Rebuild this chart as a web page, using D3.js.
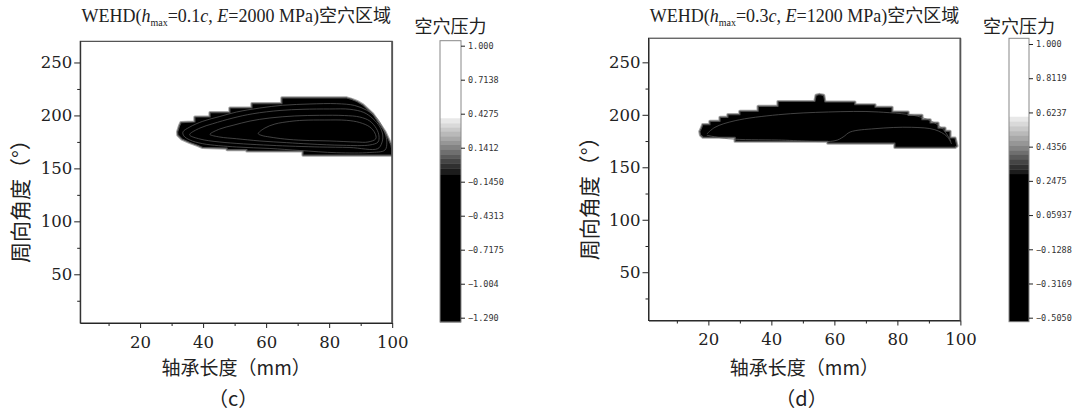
<!DOCTYPE html>
<html>
<head>
<meta charset="utf-8">
<script src="https://cdn.jsdelivr.net/npm/d3@7"></script>
<style>
  body { margin: 0; background: #fff; }
  .tick text { font-family: "DejaVu Serif", serif; font-size: 16.5px; fill: #222; }
  .tick line { stroke: #222; }
  .cjk { font-family: "Noto Sans CJK SC", sans-serif; fill: #222; }
</style>
</head>
<body>
<svg width="1075" height="412"></svg>
<script>
// axis ticks
var xTicks = [20, 40, 60, 80, 100];
var xMinor = [10, 30, 50, 70, 90];
var yTicks = [50, 100, 150, 200, 250];
var yMinor = [25, 75, 125, 175, 225];

// colour bar ticks (c) and (d)
var cbTicksC = [1.000, 0.7138, 0.4275, 0.1412, -0.1450, -0.4313, -0.7175, -1.004, -1.290];
var cbLabelsC = ["1.000", "0.7138", "0.4275", "0.1412", "−0.1450", "−0.4313", "−0.7175", "−1.004", "−1.290"];
var cbTicksD = [1.000, 0.8119, 0.6237, 0.4356, 0.2475, 0.05937, -0.1288, -0.3169, -0.5050];
var cbLabelsD = ["1.000", "0.8119", "0.6237", "0.4356", "0.2475", "0.05937", "−0.1288", "−0.3169", "−0.5050"];

// grey levels of the colour bars (white above first level, black below last)
var levelsC = [0.389, 0.347, 0.310, 0.276, 0.234, 0.198, 0.164, 0.122, 0.086, 0.052, 0.010, -0.032, -0.088];
var levelsD = [0.600, 0.574, 0.548, 0.521, 0.495, 0.469, 0.443, 0.416, 0.390, 0.364, 0.338, 0.311, 0.285];
var greys = ["#e8e8e8", "#d9d9d9", "#c9c9c9", "#b9b9b9", "#a8a8a8", "#969696", "#838383",
             "#6f6f6f", "#5a5a5a", "#454545", "#303030", "#1c1c1c"];

// cavitation region (c): outline, [length mm, angle deg]
var outlineC = [[31.9,184.4],[32.5,190.0],[33.0,193.3],[37.4,193.8],[37.4,198.5],[42.2,198.5],[42.2,202.6],
  [48.5,202.6],[48.5,207.0],[55.5,207.0],[55.5,211.1],[65.0,211.1],[65.0,216.5],[85.6,216.5],[87.2,215.1],
  [88.8,213.2],[90.7,209.9],[91.9,206.6],[93.8,201.4],[95.1,195.7],[96.4,190.0],[97.7,184.4],[98.6,178.7],
  [99.6,172.1],[99.9,167.3],[99.9,162.6],[71.7,162.6],[71.7,166.4],[53.9,166.4],[53.9,167.8],[47.6,167.8],
  [47.6,169.2],[39.9,169.7],[38.4,171.6],[35.8,174.4],[33.3,177.7],[32.0,181.5]];

// iso-lines inside region (c)
var isoC1 = [[33.6,184.4],[35.8,189.1],[39.9,194.5],[45.3,199.0],[50.6,203.2],[58.0,207.0],[65.3,209.6],
  [73.9,210.8],[82.4,211.1],[88.1,209.4],[91.9,204.9],[94.8,198.5],[96.4,191.9],[97.7,183.4],[98.3,174.9],
  [97.7,167.3],[92.9,165.0],[82.4,164.8],[70.7,166.9],[61.2,168.8],[50.6,170.2],[39.9,173.3],[35.8,176.8],[33.9,180.6]];
var isoC2 = [[35.8,182.5],[39.0,188.1],[43.1,192.2],[49.5,197.6],[55.8,201.6],[64.4,204.7],[71.7,205.8],
  [80.2,206.1],[86.6,205.8],[91.0,202.8],[93.9,196.9],[96.1,189.1],[97.0,181.5],[96.7,174.0],[95.4,168.6],
  [86.6,169.7],[77.0,170.2],[61.2,171.8],[45.3,174.9],[39.0,177.7],[35.8,181.2]];
var isoC3 = [[42.2,182.5],[45.3,187.2],[49.5,190.7],[54.9,194.7],[61.2,197.6],[69.1,199.5],[77.0,200.1],
  [84.9,199.9],[89.7,198.5],[92.9,194.7],[95.0,187.5],[95.8,180.6],[95.5,174.9],[92.9,172.1],[84.4,171.8],
  [73.9,173.0],[66.5,174.3],[58.0,175.9],[50.6,178.0],[45.3,179.6],[42.2,181.9]];
var isoC4 = [[57.5,182.8],[59.6,188.1],[62.8,191.9],[67.5,194.3],[71.7,195.4],[78.6,195.7],[85.5,195.4],
  [89.7,193.3],[92.9,189.1],[94.5,183.4],[94.8,178.0],[92.3,174.9],[88.7,174.9],[80.2,175.9],[71.7,176.5],
  [65.9,177.7],[61.2,179.6],[58.7,181.0]];

// cavitation region (d)
var outlineD = [[17.3,184.1],[17.9,188.0],[18.2,190.6],[20.5,190.6],[20.5,193.8],[23.7,193.8],[23.7,197.6],
  [26.2,197.6],[26.2,200.1],[30.0,200.1],[30.0,203.4],[35.8,203.4],[35.8,208.1],[42.1,208.1],[42.1,212.7],
  [53.8,212.7],[54.2,218.5],[55.2,219.4],[56.6,218.5],[57.0,212.2],[66.5,212.2],[66.5,209.6],[72.9,209.6],
  [72.9,207.2],[78.3,207.2],[78.3,202.7],[83.4,202.7],[83.4,199.5],[87.8,199.5],[87.8,195.3],[90.4,195.3],
  [90.4,192.2],[92.9,192.2],[92.9,187.4],[95.1,187.4],[95.1,184.3],[96.7,184.3],[96.7,177.9],[98.3,177.9],
  [98.9,170.3],[98.3,169.0],[79.2,169.0],[79.2,173.1],[57.9,173.1],[57.9,174.8],[28.5,174.8],[28.5,178.6],
  [18.3,178.6],[17.5,180.8]];
var isoD1 = [[19.5,181.7],[22.1,188.1],[28.5,194.4],[42.2,200.1],[58.1,202.7],[73.9,202.7],[87.7,197.6],
  [94.1,187.4],[97.0,174.8]];
var isoD2 = [[19.5,180.5],[26.3,177.2],[42.2,176.0],[60.2,175.3],[62.8,178.9],[65.0,183.6],[72.9,186.8],
  [84.5,188.1],[91.9,185.8],[95.7,179.5],[97.2,172.2]];

var svg = d3.select("svg");

var panels = [
  { id: "c", letter: "（c）", hval: "0.1", eval: "2000",
    left: 80.2, right: 392.2, top: 41.3, bottom: 323, xDomain: [1, 100], yDomain: [4, 270],
    outline: outlineC, isos: [isoC1, isoC2, isoC3, isoC4], closed: true,
    cbX: 440, cbW: 21, cbTop: 40.7, cbBottom: 322, cbDomain: [1.0, -1.29], cbRange: [45.7, 317.7],
    cbTicks: cbTicksC, cbLabels: cbLabelsC, levels: levelsC },
  { id: "d", letter: "（d）", hval: "0.3", eval: "1200",
    left: 648.5, right: 960.4, top: 38.2, bottom: 320.5, xDomain: [1, 100], yDomain: [4, 273],
    outline: outlineD, isos: [isoD1, isoD2], closed: false,
    cbX: 1009, cbW: 20, cbTop: 38.3, cbBottom: 321.7, cbDomain: [1.0, -0.505], cbRange: [44, 317.7],
    cbTicks: cbTicksD, cbLabels: cbLabelsD, levels: levelsD }
];

panels.forEach(function (p) {
  var x = d3.scaleLinear().domain(p.xDomain).range([p.left, p.right]);
  var y = d3.scaleLinear().domain(p.yDomain).range([p.bottom, p.top]);
  var cx = (p.left + p.right) / 2;

  svg.append("clipPath").attr("id", "clip" + p.id)
    .append("rect")
    .attr("x", p.left).attr("y", p.top)
    .attr("width", p.right - p.left).attr("height", p.bottom - p.top);

  var area = svg.append("g").attr("clip-path", "url(#clip" + p.id + ")");
  var line = d3.line().x(function (d) { return x(d[0]); }).y(function (d) { return y(d[1]); });

  // grey fringe, then black region
  area.append("path").datum(p.outline)
    .attr("d", function (d) { return line(d) + "Z"; })
    .attr("fill", "none").attr("stroke", "#a5a5a5").attr("stroke-width", 3.2)
    .attr("stroke-linejoin", "round");
  area.append("path").datum(p.outline)
    .attr("d", function (d) { return line(d) + "Z"; })
    .attr("fill", "#000").attr("stroke", "#4d4d4d").attr("stroke-width", 1.2)
    .attr("stroke-linejoin", "round");

  var iso = d3.line().x(function (d) { return x(d[0]); }).y(function (d) { return y(d[1]); })
    .curve(p.closed ? d3.curveCatmullRomClosed : d3.curveCatmullRom);
  area.selectAll(".iso").data(p.isos).enter().append("path")
    .attr("class", "iso").attr("d", iso)
    .attr("fill", "none").attr("stroke", "#5e5e5e").attr("stroke-width", 0.7);

  // axes
  var gx = svg.append("g").attr("transform", "translate(0," + p.bottom + ")");
  gx.call(d3.axisBottom(x).tickValues(xTicks).tickSize(5).tickPadding(8).tickSizeOuter(0));
  gx.append("g").call(d3.axisBottom(x).tickValues(xMinor).tickSize(3).tickFormat("").tickSizeOuter(0))
    .select(".domain").remove();
  var gy = svg.append("g").attr("transform", "translate(" + p.left + ",0)");
  gy.call(d3.axisLeft(y).tickValues(yTicks).tickSize(6).tickPadding(2).tickSizeOuter(0));
  gy.append("g").call(d3.axisLeft(y).tickValues(yMinor).tickSize(3).tickFormat("").tickSizeOuter(0))
    .select(".domain").remove();
  svg.selectAll(".domain").attr("stroke", "#222");

  // frame
  svg.append("rect")
    .attr("x", p.left).attr("y", p.top)
    .attr("width", p.right - p.left).attr("height", p.bottom - p.top)
    .attr("fill", "none").attr("stroke", "#2a2a2a").attr("stroke-width", 1);
  svg.append("line")
    .attr("x1", p.right).attr("x2", p.right).attr("y1", p.top).attr("y2", p.bottom)
    .attr("stroke", "#555").attr("stroke-width", 1.8);

  // title
  var t = svg.append("text").attr("x", cx).attr("y", 22).attr("text-anchor", "middle")
    .style("font-family", "'Liberation Serif', serif").style("font-size", "18px").style("fill", "#222");
  t.append("tspan").text("WEHD(");
  t.append("tspan").style("font-style", "italic").text("h");
  t.append("tspan").attr("dy", 4).style("font-size", "10px").text("max");
  t.append("tspan").attr("dy", -4).text("=" + p.hval);
  t.append("tspan").style("font-style", "italic").text("c");
  t.append("tspan").text(", ");
  t.append("tspan").style("font-style", "italic").text("E");
  t.append("tspan").text("=" + p.eval + " MPa)");
  t.append("tspan").attr("class", "cjk").style("font-size", "18px").text("空穴区域");

  // axis titles
  svg.append("text").attr("class", "cjk")
    .attr("transform", "translate(" + (p.left - 52) + "," + ((p.top + p.bottom) / 2 + 14) + ") rotate(-90)")
    .attr("text-anchor", "middle").style("font-size", "21px")
    .text("周向角度（°）");
  svg.append("text").attr("class", "cjk")
    .attr("x", cx).attr("y", 375).attr("text-anchor", "middle").style("font-size", "19px")
    .text("轴承长度（mm）");
  svg.append("text").attr("class", "cjk")
    .attr("x", cx - 3).attr("y", 406).attr("text-anchor", "middle").style("font-size", "20px")
    .text(p.letter);

  // colour bar
  var cb = d3.scaleLinear().domain(p.cbDomain).range(p.cbRange);
  var vTop = cb.invert(p.cbTop), vBot = cb.invert(p.cbBottom);
  var bands = [{ hi: vTop, lo: p.levels[0], c: "#fff" }];
  greys.forEach(function (c, i) { bands.push({ hi: p.levels[i], lo: p.levels[i + 1], c: c }); });
  bands.push({ hi: p.levels[p.levels.length - 1], lo: vBot, c: "#000" });

  var gc = svg.append("g").attr("class", "cb");
  gc.selectAll(".band").data(bands).enter().append("rect")
    .attr("x", p.cbX).attr("width", p.cbW)
    .attr("y", function (d) { return cb(d.hi); })
    .attr("height", function (d) { return cb(d.lo) - cb(d.hi) + 0.3; })
    .attr("fill", function (d) { return d.c; });
  gc.append("rect")
    .attr("x", p.cbX).attr("y", p.cbTop).attr("width", p.cbW).attr("height", p.cbBottom - p.cbTop)
    .attr("fill", "none").attr("stroke", "#888").attr("stroke-width", 1);
  var ga = gc.append("g").attr("transform", "translate(" + (p.cbX + p.cbW) + ",0)")
    .call(d3.axisRight(cb).tickValues(p.cbTicks).tickSize(4).tickPadding(3).tickSizeOuter(0)
      .tickFormat(function (d, i) { return p.cbLabels[i]; }));
  ga.select(".domain").remove();
  ga.selectAll(".tick line").attr("stroke", "#666");
  ga.selectAll(".tick text").style("font-family", "'DejaVu Sans Mono', monospace").style("font-size", "8.5px").style("fill", "#333");

  svg.append("text").attr("class", "cjk")
    .attr("x", p.cbX + p.cbW / 2).attr("y", 33).attr("text-anchor", "middle").style("font-size", "18px")
    .text("空穴压力");
});
</script>
</body>
</html>
